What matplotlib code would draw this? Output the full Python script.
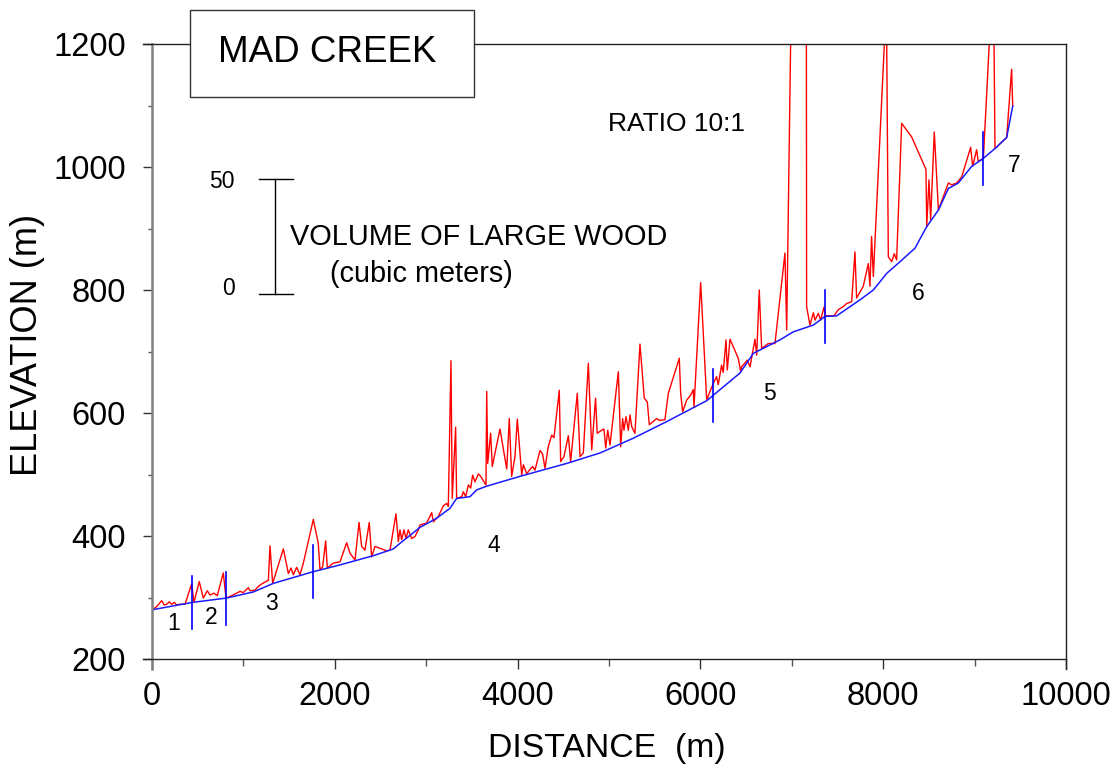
import numpy as np
import matplotlib
matplotlib.use("Agg")
import matplotlib.pyplot as plt
from matplotlib.patches import Rectangle
from matplotlib.ticker import MultipleLocator

plt.rcParams['font.family'] = ['Liberation Sans', 'DejaVu Sans']

# ---------------- data ----------------
# channel bed profile (distance m, elevation m)
bed_dist = [0, 441, 810, 1109, 1328, 1765, 2057, 2422, 2641, 2713, 2932, 3115, 3260,
            3333, 3479, 3553, 3662, 4026, 4537, 4902, 5266, 5631, 6069, 6433, 6579,
            6871, 7017, 7236, 7363, 7491, 7746, 7892, 8038, 8184, 8348, 8476, 8604,
            8713, 8822, 8968, 9096, 9223, 9351, 9417]
bed_elev = [280, 292, 299, 309, 323, 342, 353, 368, 379, 388, 414, 429, 445,
            461, 464, 475, 481, 497, 518, 535, 559, 586, 620, 665, 697,
            719, 732, 743, 757, 758, 784, 800, 827, 846, 868, 903, 930,
            965, 974, 1001, 1014, 1030, 1048, 1099]

# large wood volume plotted on top of bed (elevation of red trace, ratio 10:1)
wood_dist = [0, 51, 106, 131, 161, 189, 215, 244, 270, 306, 361, 434, 459, 517, 561, 605,
             635, 678, 714, 780, 810, 872, 926, 963, 999, 1054, 1072, 1127, 1163, 1200,
             1273, 1291, 1320, 1437, 1492, 1521, 1546, 1583, 1619, 1656, 1765, 1819, 1838,
             1867, 1900, 1918, 1984, 2057, 2130, 2166, 2221, 2265, 2294, 2330, 2377, 2403,
             2440, 2494, 2567, 2604, 2669, 2695, 2713, 2731, 2757, 2779, 2804, 2841, 2877,
             2914, 2932, 3005, 3060, 3078, 3133, 3187, 3224, 3242, 3271, 3285, 3322, 3333,
             3388, 3406, 3432, 3461, 3487, 3508, 3534, 3570, 3596, 3654, 3662, 3673, 3705,
             3723, 3807, 3881, 3909, 3935, 3971, 3997, 4045, 4063, 4100, 4128, 4165, 4190,
             4245, 4274, 4300, 4335, 4373, 4398, 4456, 4471, 4507, 4555, 4580, 4653, 4683,
             4719, 4774, 4811, 4853, 4871, 4920, 4945, 4964, 4986, 5011, 5102, 5128, 5149,
             5164, 5186, 5211, 5230, 5248, 5284, 5339, 5386, 5419, 5441, 5522, 5550, 5612,
             5649, 5769, 5784, 5806, 5850, 5893, 5922, 5930, 6003, 6069, 6105, 6141, 6177,
             6195, 6232, 6250, 6280, 6294, 6324, 6414, 6440, 6451, 6513, 6543, 6597, 6616,
             6644, 6670, 6742, 6816, 6925, 6944, 7150, 7162, 7199, 7236, 7254, 7290, 7316,
             7352, 7370, 7462, 7508, 7563, 7600, 7655, 7691, 7709, 7782, 7837, 7855, 7873,
             7892, 8035, 8056, 8093, 8121, 8147, 8202, 8311, 8468, 8476, 8501, 8519, 8559,
             8604, 8713, 8749, 8804, 8859, 8957, 8979, 9022, 9040, 9096, 9205, 9223, 9351,
             9405, 9417]
wood_elev = [280, 285, 295, 288, 289, 293, 289, 292, 288, 289, 289, 322, 292, 326, 299, 311,
             304, 307, 303, 340, 299, 303, 307, 310, 308, 316, 311, 312, 318, 322,
             328, 384, 323, 379, 339, 348, 337, 349, 337, 356, 427, 388, 345,
             350, 392, 348, 356, 358, 389, 372, 361, 422, 383, 377, 422, 366,
             383, 380, 376, 377, 436, 391, 410, 394, 410, 396, 410, 396, 399,
             410, 418, 421, 438, 423, 432, 449, 453, 448, 685, 461, 577, 461,
             464, 472, 464, 483, 478, 499, 488, 501, 497, 483, 635, 518, 567,
             513, 574, 509, 591, 497, 529, 590, 499, 516, 501, 507, 513, 507,
             539, 533, 510, 545, 564, 560, 637, 521, 529, 563, 521, 632, 529,
             535, 681, 540, 624, 567, 572, 574, 543, 572, 548, 667, 545, 591,
             572, 594, 572, 597, 578, 567, 712, 624, 618, 581, 591, 588, 589,
             632, 689, 632, 602, 621, 629, 638, 610, 812, 621, 635, 648, 659,
             646, 678, 666, 719, 670, 720, 689, 668, 675, 686, 675, 720, 694,
             800, 705, 713, 713, 860, 735, 2960, 773, 743, 763, 751, 762, 751,
             772, 758, 758, 768, 773, 778, 781, 862, 787, 806, 843, 806, 887,
             822, 1270, 854, 846, 859, 849, 1071, 1049, 996, 903, 979, 914, 1057,
             930, 974, 971, 974, 984, 1032, 1001, 1028, 1009, 1014, 1330, 1030, 1048,
             1159, 1099]

# reach boundaries (distance, m) and reach labels
boundary_dist = [440, 810, 1765, 6140, 7360, 9090]
reach_names = ['1', '2', '3', '4', '5', '6', '7']
reach_x = [241, 646, 1302, 3742, 6751, 8381, 9431]
reach_y = [258, 267, 291, 385, 631, 795, 1002]

# volume scale bar (0 and 50 m^3)
scale_labels = ['0', '50']
scale_elev = [793, 980]

xticks = [0, 2000, 4000, 6000, 8000, 10000]
yticks = [200, 400, 600, 800, 1000, 1200]

# ---------------- figure ----------------
W, H = 1115, 768
fig = plt.figure(figsize=(W / 100, H / 100), dpi=100)
ax = fig.add_axes([152 / W, 1 - 659 / H, (1066 - 152) / W, (659 - 44) / H])

ax.plot(wood_dist, wood_elev, color='#ff0000', lw=1.0, zorder=3)
ax.plot(bed_dist, bed_elev, color='#1a1aff', lw=1.1, zorder=4)

half = 43
for b in boundary_dist:
    c = np.interp(b, bed_dist, bed_elev)
    ax.plot([b, b], [c - half, c + half], color='#0000ff', lw=1.2, zorder=5)

for name, x, y in zip(reach_names, reach_x, reach_y):
    ax.text(x, y, name, ha='center', va='center', fontsize=16.5, color='black')

# scale bar
sb_x = 1342
ax.plot([sb_x, sb_x], scale_elev, color='black', lw=1.0)
for e in scale_elev:
    ax.plot([1174, 1546], [e, e], color='black', lw=1.0)
ax.text(905, 802, scale_labels[0], ha='right', va='center', fontsize=16.5)
ax.text(905, 976, scale_labels[1], ha='right', va='center', fontsize=16.5)
ax.text(1510, 886, 'VOLUME OF LARGE WOOD', ha='left', va='center', fontsize=20.8)
ax.text(1947, 826, '(cubic meters)', ha='left', va='center', fontsize=20.8)
ax.text(4989, 1070, 'RATIO 10:1', ha='left', va='center', fontsize=19)

ax.set_xlim(0, 10000)
ax.set_ylim(200, 1200)
ax.set_xticks(xticks)
ax.set_yticks(yticks)
ax.xaxis.set_minor_locator(MultipleLocator(1000))
ax.yaxis.set_minor_locator(MultipleLocator(100))
ax.set_xticklabels([str(t) for t in xticks], fontsize=23.5)
ax.set_yticklabels([str(t) for t in yticks], fontsize=23.5)
ax.tick_params(axis='x', which='major', direction='out', length=7.2, width=1.0, pad=8.5, color='#333333')
ax.tick_params(axis='x', which='minor', direction='out', length=4.8, width=1.0, color='#555555')
ax.tick_params(axis='y', which='major', direction='out', length=6.2, width=1.0, pad=12.5, color='#333333')
ax.tick_params(axis='y', which='minor', direction='out', length=3.0, width=1.0, color='#555555')

for s in ax.spines.values():
    s.set_visible(False)
ox = 9 / 914
oy = 9.5 / 615
ax.plot([0, 0], [-oy, 1], transform=ax.transAxes, color='#808080', lw=1.8, clip_on=False, zorder=6)
ax.plot([-ox, 1], [0, 0], transform=ax.transAxes, color='#222222', lw=1.0, clip_on=False, zorder=6)
ax.plot([-ox, 1], [1, 1], transform=ax.transAxes, color='#222222', lw=1.0, clip_on=False, zorder=6)
ax.plot([1, 1], [-oy, 1], transform=ax.transAxes, color='#222222', lw=1.0, clip_on=False, zorder=6)

ax.set_xlabel('DISTANCE  (m)', fontsize=24.3)
ax.set_ylabel('ELEVATION (m)', fontsize=26)
ax.xaxis.set_label_coords(0.4978, -0.12)
ax.yaxis.set_label_coords(-0.117, 0.51)

# title box
box = Rectangle((190 / W, 1 - 97 / H), (474 - 190) / W, (97 - 10) / H, transform=fig.transFigure,
                facecolor='white', edgecolor='#333333', lw=1.0, zorder=10)
fig.add_artist(box)
fig.text(327 / W, 1 - 52 / H, 'MAD CREEK', ha='center', va='center', fontsize=26.5, zorder=11)

fig.savefig('out.png', dpi=100)
